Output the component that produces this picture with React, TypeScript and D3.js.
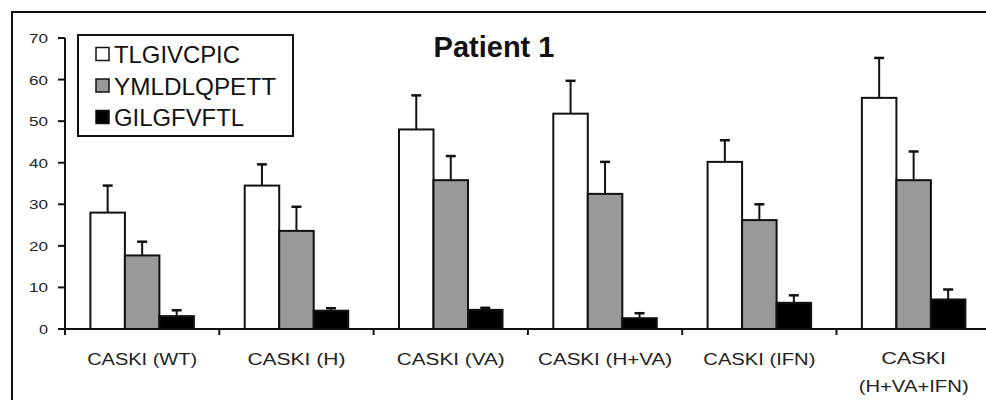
import React, { useEffect, useRef } from "react";
import * as d3 from "d3";

const categories = ["CASKI (WT)", "CASKI (H)", "CASKI (VA)", "CASKI (H+VA)", "CASKI (IFN)", "CASKI|(H+VA+IFN)"];
const seriesNames = ["TLGIVCPIC", "YMLDLQPETT", "GILGFVFTL"];
const seriesColors = ["#ffffff", "#999999", "#000000"];
const meanTLG = [28, 34.5, 48, 51.8, 40.2, 55.6];
const errTLG = [34.5, 39.6, 56.2, 59.7, 45.4, 65.2];
const meanYML = [17.7, 23.6, 35.8, 32.5, 26.2, 35.8];
const errYML = [21, 29.4, 41.6, 40.2, 30, 42.7];
const meanGIL = [3.1, 4.4, 4.6, 2.6, 6.3, 7.1];
const errGIL = [4.5, 5, 5.1, 3.8, 8.1, 9.5];
const yTicks = [0, 10, 20, 30, 40, 50, 60, 70];
const title = "Patient 1";

const W = 986;
const H = 400;

export default function App() {
  const ref = useRef<SVGSVGElement | null>(null);
  useEffect(() => {
    const svg = d3.select(ref.current);
    svg.selectAll("*").remove();
    const font = "'Liberation Sans', Arial, sans-serif";

    svg.append("rect").attr("width", W).attr("height", H).attr("fill", "#fff");
    svg.append("rect").attr("x", 12).attr("y", 12).attr("width", 1000).attr("height", 420)
      .attr("fill", "none").attr("stroke", "#111").attr("stroke-width", 2);

    const x0 = 65;
    const bandW = 154.3;
    const x = d3.scaleBand().domain(categories).range([x0, x0 + bandW * categories.length]).paddingInner(0).paddingOuter(0);
    const y = d3.scaleLinear().domain([0, 70]).range([329, 38]);
    const barW = 34.5;
    const xs = d3.scaleBand().domain(seriesNames).range([0, barW * 3]);

    const means = [meanTLG, meanYML, meanGIL];
    const errs = [errTLG, errYML, errGIL];

    // bars
    seriesNames.forEach((s, si) => {
      const g = svg.append("g");
      categories.forEach((c, ci) => {
        const gx = (x(c) as number) + (x.bandwidth() - barW * 3) / 2 + (xs(s) as number);
        const m = means[si][ci];
        const e = errs[si][ci];
        const cx = gx + barW / 2;
        // error bar
        g.append("line").attr("x1", cx).attr("x2", cx).attr("y1", y(m)).attr("y2", y(e))
          .attr("stroke", "#111").attr("stroke-width", 2);
        g.append("line").attr("x1", cx - 5).attr("x2", cx + 5).attr("y1", y(e)).attr("y2", y(e))
          .attr("stroke", "#111").attr("stroke-width", 2.5);
        g.append("rect").attr("x", gx).attr("y", y(m)).attr("width", barW).attr("height", y(0) - y(m))
          .attr("fill", seriesColors[si]).attr("stroke", "#111").attr("stroke-width", 2);
      });
    });

    // y axis
    svg.append("line").attr("x1", x0).attr("x2", x0).attr("y1", y(70)).attr("y2", y(0) + 6)
      .attr("stroke", "#111").attr("stroke-width", 2);
    yTicks.forEach((t) => {
      svg.append("line").attr("x1", x0 - 7).attr("x2", x0).attr("y1", y(t)).attr("y2", y(t))
        .attr("stroke", "#111").attr("stroke-width", 2);
      svg.append("text").attr("x", 48).attr("y", y(t) + 5).attr("text-anchor", "end")
        .attr("font-family", font).attr("font-size", 13).attr("fill", "#222")
        .attr("textLength", t === 0 ? 9 : 19).attr("lengthAdjust", "spacingAndGlyphs")
        .text(String(t));
    });

    // x axis
    svg.append("line").attr("x1", x0).attr("x2", W + 10).attr("y1", y(0)).attr("y2", y(0))
      .attr("stroke", "#111").attr("stroke-width", 2);
    categories.forEach((c) => {
      const bx = x(c) as number;
      svg.append("line").attr("x1", bx).attr("x2", bx).attr("y1", y(0)).attr("y2", y(0) + 6)
        .attr("stroke", "#111").attr("stroke-width", 2);
    });
    const labelLens: Record<string, number> = {
      "CASKI (WT)": 110, "CASKI (H)": 98, "CASKI (VA)": 108, "CASKI (H+VA)": 134, "CASKI (IFN)": 112,
      "CASKI": 65, "(H+VA+IFN)": 110,
    };
    categories.forEach((c) => {
      const cx = (x(c) as number) + x.bandwidth() / 2;
      const lines = c.split("|");
      lines.forEach((ln, li) => {
        svg.append("text").attr("x", cx).attr("y", (lines.length > 1 ? 364 : 365) + li * 28)
          .attr("text-anchor", "middle").attr("font-family", font).attr("font-size", 16)
          .attr("fill", "#222")
          .attr("textLength", labelLens[ln] || 100).attr("lengthAdjust", "spacingAndGlyphs")
          .text(ln);
      });
    });

    // title
    svg.append("text").attr("x", 494).attr("y", 57).attr("text-anchor", "middle")
      .attr("font-family", font).attr("font-size", 29).attr("font-weight", "bold").attr("fill", "#111")
      .text(title);

    // legend
    const lg = svg.append("g");
    lg.append("rect").attr("x", 78).attr("y", 35).attr("width", 215).attr("height", 101)
      .attr("fill", "#fff").attr("stroke", "#111").attr("stroke-width", 2);
    const legLens = [126, 162, 130];
    seriesNames.forEach((s, i) => {
      const cy = 54 + i * 31.5;
      lg.append("rect").attr("x", 96).attr("y", cy - 6.5).attr("width", 13).attr("height", 13)
        .attr("fill", seriesColors[i]).attr("stroke", "#111").attr("stroke-width", 1.5);
      lg.append("text").attr("x", 114).attr("y", cy + 9).attr("font-family", font).attr("font-size", 24)
        .attr("fill", "#111").attr("textLength", legLens[i]).attr("lengthAdjust", "spacingAndGlyphs")
        .text(s);
    });
  }, []);
  return (
    <svg ref={ref} width={W} height={H} style={{ position: "absolute", left: 0, top: 0, display: "block" }} />
  );
}
